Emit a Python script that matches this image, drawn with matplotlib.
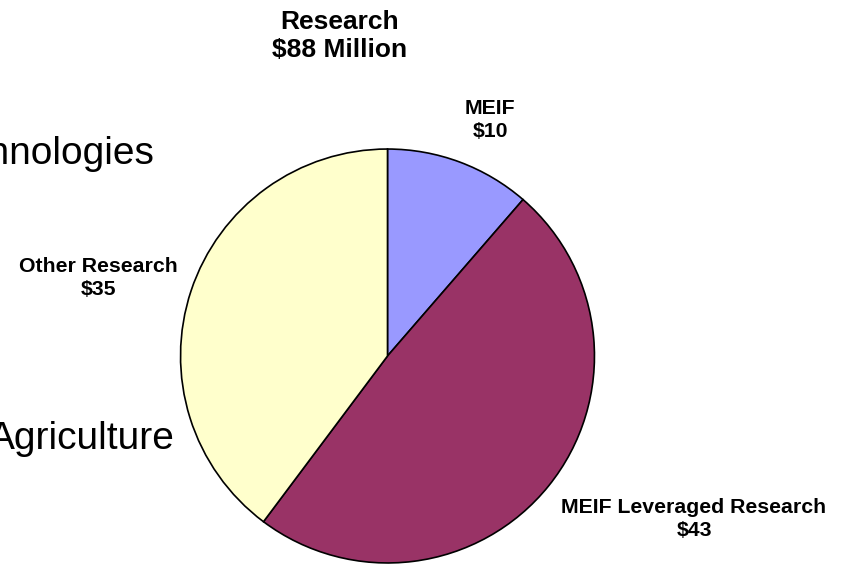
import matplotlib
matplotlib.use("Agg")
import matplotlib.pyplot as plt

categories = ["MEIF", "MEIF Leveraged Research", "Other Research"]
values = [10, 43, 35]
value_labels = ["$10", "$43", "$35"]
colors = ["#9999FF", "#993366", "#FFFFCC"]
title_lines = ["Research", "$88 Million"]
side_labels = ["Technologies", "Agriculture"]

W, H = 845, 565
fig = plt.figure(figsize=(W / 100, H / 100), dpi=100)
plt.rcParams['font.family'] = ['Liberation Sans', 'DejaVu Sans']

cx, cy, r = 387.5, 356, 208
ax = fig.add_axes([(cx - r) / W, (H - cy - r) / H, 2 * r / W, 2 * r / H])
ax.pie(values, colors=colors, startangle=90, counterclock=False,
       wedgeprops=dict(edgecolor="black", linewidth=1.2))
ax.set_xlim(-1.005, 1.005)
ax.set_ylim(-1.005, 1.005)
ax.set_aspect("equal")
ax.axis("off")

def ftext(x, y, s, **kw):
    fig.text(x / W, 1 - y / H, s, **kw)

ftext(340, 36, "\n".join(title_lines), ha="center", va="center",
      fontsize=19, fontweight="bold", linespacing=1.25)

label_pos = [(490, 120), (694, 519), (98, 278)]
for (x, y), c, v in zip(label_pos, categories, value_labels):
    ftext(x, y, f"{c}\n{v}", ha="center", va="center", fontsize=15.3,
          fontweight="bold", linespacing=1.3)

ftext(154, 154, side_labels[0], ha="right", va="center", fontsize=28)
ftext(175, 439, side_labels[1], ha="right", va="center", fontsize=28)

fig.savefig("out.png", dpi=100)
